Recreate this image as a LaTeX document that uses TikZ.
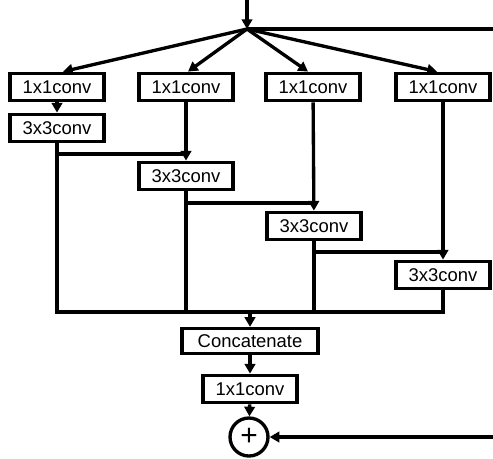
\documentclass[tikz,border=0pt]{standalone}
\usepackage{fontspec}
\setmainfont{Liberation Sans}
\usetikzlibrary{arrows.meta}

\begin{document}
\begin{tikzpicture}[x=0.02cm, y=-0.02cm, line width=1.9pt, >={Triangle[length=5.5pt,width=6pt]}]
        \tikzset{
          convbox/.style={draw, rectangle, inner sep=0pt, minimum width=1.88cm, minimum height=0.55cm,
            font=\fontsize{10.5}{12}\selectfont},
        }
        \useasboundingbox (0,0) rectangle (493,458);
        \coordinate (in) at (247,0);
        \coordinate (split) at (247,29);
        \coordinate (skip) at (493,29);
        \coordinate (skipend) at (493,437);
        \node[convbox] (a1) at (57,87) {1x1conv};
        \node[convbox] (a2) at (186,87) {1x1conv};
        \node[convbox] (a3) at (313,87) {1x1conv};
        \node[convbox] (a4) at (443,87) {1x1conv};
        \draw[->] (in) -- (split);
        \draw (split) -- (skip);
        \foreach \n/\s in {a1/1.2mm, a2/0.4mm, a3/-1mm, a4/-1.2mm}
          \draw[->] (split) -- ([xshift=\s]\n.north);
        % 
        \node[convbox] (b1) at (57,128) {3x3conv};
        \node[convbox] (b2) at (186,176) {3x3conv};
        \node[convbox] (b3) at (314,226) {3x3conv};
        \node[convbox] (b4) at (443,275) {3x3conv};
        \draw[->] (a1) -- (b1);
        \draw[->] (a2) -- (b2);
        \draw[->] (a3) -- (b3);
        \draw[->] (a4) -- (b4);
        \coordinate (h1) at (0,154);
        \coordinate (h2) at (0,203);
        \coordinate (h3) at (0,252);
        \draw (b1.south |- h1) -- (b2.north |- h1);
        \draw (b2.south |- h2) -- (b3.north |- h2);
        \draw (b3.south |- h3) -- (b4.north |- h3);
        % 
        \coordinate (bus) at (250,312);
        \draw (b1.south) -- (b1.south |- bus) -- (b4.south |- bus) -- (b4.south);
        \draw (b2.south) -- (b2.south |- bus);
        \draw (b3.south) -- (b3.south |- bus);
        \node[convbox, minimum width=2.72cm, minimum height=0.5cm] (cat) at (250,341) {Concatenate};
        \node[convbox] (out) at (250,389) {1x1conv};
        \node[draw, circle, minimum size=0.76cm, inner sep=0pt, font=\fontsize{17}{17}\selectfont] (add) at (249,437) {+};
        \draw[->] (bus) -- (cat);
        \draw[->] (cat) -- (out);
        \draw[->] (out) -- (add);
        \draw[->] (skipend) -- (add);
    \end{tikzpicture}
\end{document}
